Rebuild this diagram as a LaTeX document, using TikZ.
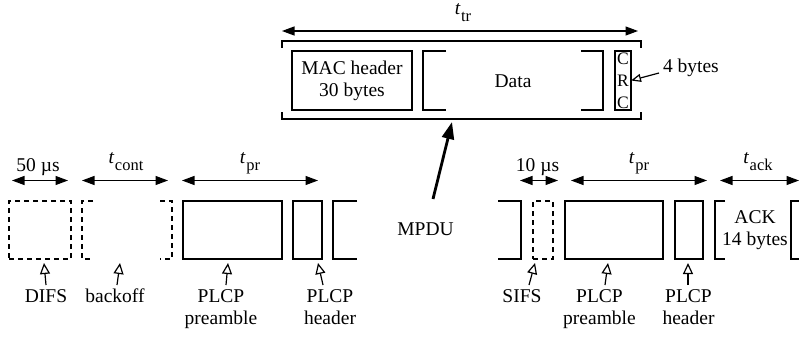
\documentclass[tikz,border=0pt]{standalone}
\usepackage{fontspec}
\setmainfont{Liberation Serif}
\usetikzlibrary{arrows.meta}
\newcommand{\tlbl}[1]{\textit{t}\kern0.5pt\raisebox{-7pt}{\fontsize{16.5}{16.5}\selectfont #1}}
\begin{document}
\begin{tikzpicture}[x=1pt,y=-1pt,
  every node/.style={font=\fontsize{19.5}{22}\selectfont, inner sep=0pt, outer sep=0pt},
  box/.style={draw, line width=1.2pt, minimum height=58pt},
  dbox/.style={box, dash pattern=on 5pt off 4pt},
  bracket/.style={draw, line width=1.2pt},
  dbracket/.style={bracket, dash pattern=on 5pt off 4pt},
  dim/.style={line width=1.2pt, {Triangle[length=12.5pt,width=9pt]}-{Triangle[length=12.5pt,width=9pt]}},
  pointer/.style={line width=1.2pt, -{Triangle[open,length=11pt,width=10pt]}},
  lbl/.style={anchor=base},
  lbltwo/.style={anchor=north, align=center},
]
\useasboundingbox (0,0) rectangle (799,337);

% ---------- top: MPDU detail ----------
\node[lbl] (ttr) at (463,15) {\tlbl{tr}};
\coordinate (ttrA) at (282,31);
\coordinate (ttrB) at (638,31);
\draw[dim] (ttrA) -- (ttrB);

\draw[bracket] (282,48) -- (282,41) -- (641,41) -- (641,48);
\draw[bracket] (282,112) -- (282,119) -- (641,119) -- (641,112);

\node[box, minimum width=120pt, minimum height=59pt, align=center] (mac) at (352,80.5) {MAC header\\30 bytes};

\draw[bracket] (446,51) -- (423,51) -- (423,110) -- (446,110);
\draw[bracket] (581,51) -- (603,51) -- (603,110) -- (581,110);
\node[lbl] (data) at (513,87) {Data};

\node[box, minimum width=16pt, minimum height=59pt, align=center,
      font=\fontsize{17.5}{22}\selectfont] (crc) at (623,80.5) {C\\R\\C};
\node[anchor=base west] (fourb) at (663,72) {4 bytes};
\coordinate (fourbTail) at (659,73);
\draw[line width=1.2pt, -{Triangle[open,length=10pt,width=8pt]}] (fourbTail) -- (crc.east);

\node[lbl] (mpdu) at (425.5,235) {MPDU};
\coordinate (mpduTail) at (433,199);
\coordinate (mpduTip) at (452,122);
\draw[line width=2.8pt, -{Triangle[length=17pt,width=12pt]}] (mpduTail) -- (mpduTip);

% ---------- bottom: timing ----------
\node[lbl] (t50) at (38,171.5) {50 µs};
\coordinate (d1a) at (12,180.5); \coordinate (d1b) at (68,180.5);
\draw[dim] (d1a) -- (d1b);
\node[lbl] (tcont) at (126,163) {\tlbl{cont}};
\coordinate (d2a) at (82,180.5); \coordinate (d2b) at (168,180.5);
\draw[dim] (d2a) -- (d2b);
\node[lbl] (tpr1) at (250,163) {\tlbl{pr}};
\coordinate (d3a) at (182,180.5); \coordinate (d3b) at (318,180.5);
\draw[dim] (d3a) -- (d3b);
\node[lbl] (t10) at (537.5,171.5) {10 µs};
\coordinate (d4a) at (520,180.5); \coordinate (d4b) at (558,180.5);
\draw[dim] (d4a) -- (d4b);
\node[lbl] (tpr2) at (639,163) {\tlbl{pr}};
\coordinate (d5a) at (571,180.5); \coordinate (d5b) at (707,180.5);
\draw[dim] (d5a) -- (d5b);
\node[lbl] (tack) at (758,163) {\tlbl{ack}};
\coordinate (d6a) at (720,180.5); \coordinate (d6b) at (799,180.5);
\draw[dim] (d6a) -- (d6b);

\node[dbox, minimum width=62pt] (difs) at (40,230) {};
\draw[dbracket] (93,201) -- (82,201) -- (82,259) -- (93,259);
\draw[dbracket] (160,201) -- (172,201) -- (172,259) -- (160,259);
\node[box, minimum width=99pt] (pre1) at (232.5,230) {};
\node[box, minimum width=29pt] (hdr1) at (307.5,230) {};
\draw[bracket] (357,201) -- (333,201) -- (333,259) -- (357,259);
\draw[bracket] (498,201) -- (521,201) -- (521,259) -- (498,259);
\node[dbox, minimum width=20pt] (sifs) at (543,230) {};
\node[box, minimum width=98pt] (pre2) at (614,230) {};
\node[box, minimum width=28pt] (hdr2) at (689,230) {};
\draw[bracket] (725,201) -- (715,201) -- (715,259) -- (725,259);
\draw[bracket] (799,201) -- (791,201) -- (791,259) -- (799,259);
\node[lbltwo] (ack) at (755,210.2) {ACK\\14 bytes};

% labels and pointers
\node[lbl] (ldifs) at (46,302) {DIFS};
\node[lbl] (lback) at (115,302) {backoff};
\node[lbltwo] (lpre1) at (221,289.2) {PLCP\\preamble};
\node[lbltwo] (lhdr1) at (330,289.2) {PLCP\\header};
\node[lbl] (lsifs) at (522,302) {SIFS};
\node[lbltwo] (lpre2) at (599.5,289.2) {PLCP\\preamble};
\node[lbltwo] (lhdr2) at (688.5,289.2) {PLCP\\header};

\coordinate (p1t) at (46,285);  \coordinate (p1h) at (44,263);
\coordinate (p2t) at (117,285); \coordinate (p2h) at (120,263);
\coordinate (p3t) at (226,285); \coordinate (p3h) at (228,263);
\coordinate (p4t) at (323,285); \coordinate (p4h) at (318,263);
\coordinate (p5t) at (529,285); \coordinate (p5h) at (535,263);
\coordinate (p6t) at (605,285); \coordinate (p6h) at (608,263);
\coordinate (p7t) at (688,285); \coordinate (p7h) at (688,263);
\foreach \i in {1,...,7} { \draw[pointer] (p\i t) -- (p\i h); }
\end{tikzpicture}
\end{document}
